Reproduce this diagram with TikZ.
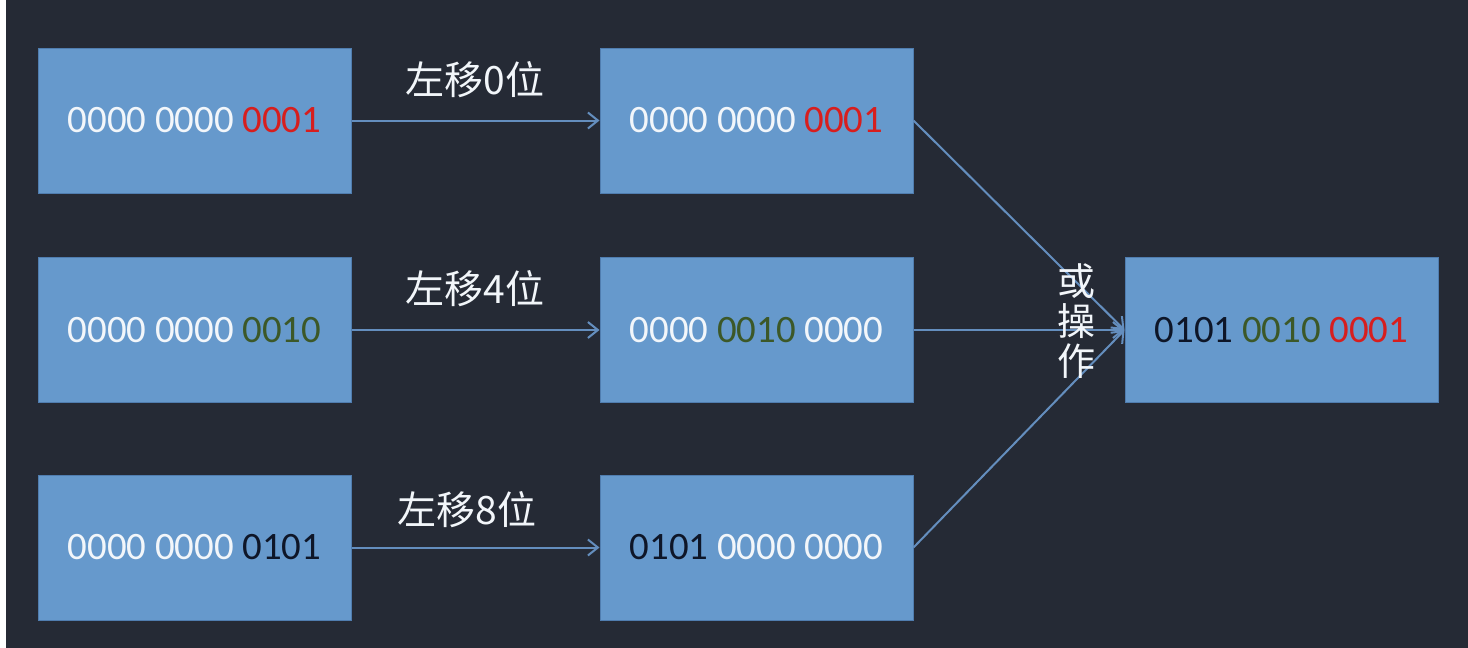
\documentclass[tikz,border=0pt]{standalone}
\usepackage{fontspec}
\setmainfont{Carlito}
\newfontfamily\cjk{Noto Sans CJK SC}
\usepackage{xcolor}
\usepackage{tikz}
\usetikzlibrary{positioning,arrows.meta}

\definecolor{bgdark}{RGB}{37,42,53}
\definecolor{boxblue}{RGB}{102,153,204}
\definecolor{boxedge}{RGB}{80,125,175}
\definecolor{linkblue}{RGB}{100,142,190}
\definecolor{bitred}{RGB}{215,30,30}
\definecolor{bitgreen}{RGB}{60,88,40}
\definecolor{bitdark}{RGB}{14,22,40}
\definecolor{bitwhite}{RGB}{242,246,250}

\begin{document}
\begin{tikzpicture}[x=0.5pt,y=-0.5pt]

\tikzstyle{bitbox} = [fill=boxblue, draw=boxedge, line width=0.5pt, rectangle, minimum height=72.5pt, minimum width=156.5pt, inner sep=0pt, text=bitwhite, font=\fontsize{19.4}{22}\selectfont]
\tikzstyle{shiftlabel} = [text=bitwhite, font=\cjk\fontsize{19.5}{20}\selectfont, inner sep=0pt]
\tikzstyle{link} = [linkblue, line width=1pt, -{Straight Barb[length=5pt,width=8pt]}]

% background
\fill[bgdark] (0,0) rectangle (1468,648);
\fill[white] (0,0) rectangle (6,648);

% source values
\node (a1) [bitbox] at (194.5,120.5) {0000 0000 \textcolor{bitred}{0001}};
\node (a2) [bitbox] at (194.5,330) {0000 0000 \textcolor{bitgreen}{0010}};
\node (a3) [bitbox] at (194.5,547.5) {0000 0000 \textcolor{bitdark}{0101}};

% shifted values
\node (b1) [bitbox] at (756.5,120.5) {0000 0000 \textcolor{bitred}{0001}};
\node (b2) [bitbox] at (756.5,330) {0000 \textcolor{bitgreen}{0010} 0000};
\node (b3) [bitbox] at (756.5,547.5) {\textcolor{bitdark}{0101} 0000 0000};

% result
\node (res) [bitbox] at (1281.5,330) {\textcolor{bitdark}{0101} \textcolor{bitgreen}{0010} \textcolor{bitred}{0001}};

\draw [link] (a1) -- (b1);
\draw [link] (a2) -- (b2);
\draw [link] (a3) -- (b3);
\node (s1) [shiftlabel] at (475,80) {左移0位};
\node (s2) [shiftlabel] at (475,289) {左移4位};
\node (s3) [shiftlabel] at (467,510) {左移8位};

\draw [link] (b1.east) -- (res.west);
\draw [link] (b2.east) -- (res.west);
\draw [link] (b3.east) -- (res.west);
\node (orop) [shiftlabel, align=center, font=\cjk\fontsize{19}{20}\selectfont] at (1076,321) {或\\操\\作};

\end{tikzpicture}
\end{document}
